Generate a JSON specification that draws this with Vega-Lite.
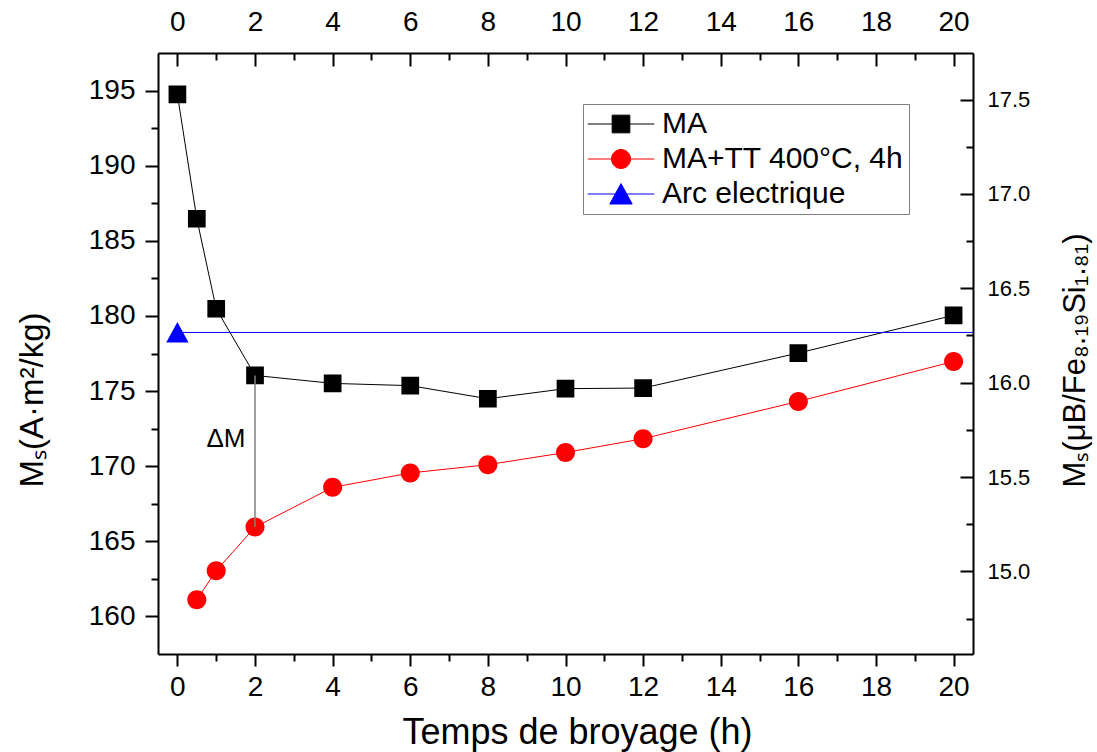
{
  "$schema": "https://vega.github.io/schema/vega-lite/v6.json",
  "width": 815,
  "height": 601,
  "autosize": {"type": "none"},
  "padding": {"left": 158, "top": 53, "right": 124, "bottom": 98},
  "background": "white",
  "config": {
    "font": "Liberation Sans",
    "view": {"stroke": null},
    "axis": {
      "grid": false,
      "domainColor": "black",
      "tickColor": "black",
      "labelColor": "black",
      "titleColor": "black",
      "domainWidth": 2,
      "tickWidth": 2,
      "labelFont": "Liberation Sans",
      "titleFont": "Liberation Sans",
      "titleFontWeight": "normal",
      "labelFlush": false,
      "labelOverlap": false
    },
    "legend": {
      "orient": "none", "legendX": 425, "legendY": 51,
      "direction": "vertical",
      "strokeColor": "#808080", "fillColor": "white", "padding": 5,
      "labelFontSize": 30, "labelFont": "Liberation Sans", "labelLimit": 400, "labelColor": "black",
      "symbolSize": 400, "symbolStrokeWidth": 1, "symbolOffset": 18, "labelOffset": 26, "rowPadding": 5
    }
  },
  "datasets": {
    "main": [
      {"t": 0, "Ms": 194.74, "series": "MA"},
      {"t": 0.5, "Ms": 186.47, "series": "MA"},
      {"t": 1, "Ms": 180.48, "series": "MA"},
      {"t": 2, "Ms": 176.04, "series": "MA"},
      {"t": 4, "Ms": 175.51, "series": "MA"},
      {"t": 6, "Ms": 175.36, "series": "MA"},
      {"t": 8, "Ms": 174.49, "series": "MA"},
      {"t": 10, "Ms": 175.16, "series": "MA"},
      {"t": 12, "Ms": 175.2, "series": "MA"},
      {"t": 16, "Ms": 177.53, "series": "MA"},
      {"t": 20, "Ms": 180.04, "series": "MA"},
      {"t": 0.5, "Ms": 161.11, "series": "MA+TT 400°C, 4h"},
      {"t": 1, "Ms": 163.04, "series": "MA+TT 400°C, 4h"},
      {"t": 2, "Ms": 165.95, "series": "MA+TT 400°C, 4h"},
      {"t": 4, "Ms": 168.59, "series": "MA+TT 400°C, 4h"},
      {"t": 6, "Ms": 169.55, "series": "MA+TT 400°C, 4h"},
      {"t": 8, "Ms": 170.1, "series": "MA+TT 400°C, 4h"},
      {"t": 10, "Ms": 170.91, "series": "MA+TT 400°C, 4h"},
      {"t": 12, "Ms": 171.83, "series": "MA+TT 400°C, 4h"},
      {"t": 16, "Ms": 174.31, "series": "MA+TT 400°C, 4h"},
      {"t": 20, "Ms": 176.97, "series": "MA+TT 400°C, 4h"},
      {"t": 0, "Ms": 178.9, "series": "Arc electrique"},
      {"t": 20.5, "Ms": 178.9, "series": "Arc electrique"}
    ],
    "delta": [
      {"t": 2, "top": 176.04, "bottom": 165.95, "tx": 1.25, "ty": 171.8, "label": "ΔM"}
    ],
    "right": [
      {"r": 16}
    ]
  },
  "resolve": {"scale": {"y": "independent"}, "axis": {"x": "independent", "y": "independent"}},
  "layer": [
    {
      "resolve": {"axis": {"x": "independent", "y": "independent"}},
      "layer": [
        {
          "data": {"name": "main"},
          "mark": {"type": "line", "strokeWidth": 1},
          "encoding": {
            "x": {
              "field": "t", "type": "quantitative",
              "scale": {"domain": [-0.5, 20.5], "nice": false, "zero": false},
              "axis": {
                "orient": "bottom",
                "values": [0, 2, 4, 6, 8, 10, 12, 14, 16, 18, 20],
                "tickSize": 12, "labelPadding": 7, "labelFontSize": 28,
                "title": "Temps de broyage (h)", "titleFontSize": 36,
                "titleX": 419, "titleY": 89, "titleAlign": "center", "titleBaseline": "alphabetic"
              }
            },
            "y": {
              "field": "Ms", "type": "quantitative",
              "scale": {"domain": [157.5, 197.5], "nice": false, "zero": false},
              "axis": {
                "orient": "left",
                "values": [160, 165, 170, 175, 180, 185, 190, 195],
                "tickSize": 13, "labelPadding": 10, "labelFontSize": 28,
                "title": "Mₛ(A·m²/kg)", "titleFontSize": 33,
                "titleAngle": 270, "titleX": -116, "titleY": 434, "titleAlign": "left", "titleBaseline": "alphabetic"
              }
            },
            "color": {
              "field": "series", "type": "nominal",
              "scale": {"domain": ["MA", "MA+TT 400°C, 4h", "Arc electrique"], "range": ["#000000", "#ff0000", "#0000ff"]},
              "legend": {"title": null}
            }
          }
        },
        {
          "data": {"name": "main"},
          "transform": [{"filter": "datum.t <= 20"}],
          "mark": {"type": "point", "filled": true, "opacity": 1, "size": 400},
          "encoding": {
            "x": {
              "field": "t", "type": "quantitative",
              "scale": {"domain": [-0.5, 20.5], "nice": false, "zero": false},
              "axis": {
                "orient": "bottom",
                "values": [1, 3, 5, 7, 9, 11, 13, 15, 17, 19],
                "tickSize": 7, "labels": false, "domain": false, "title": null
              }
            },
            "y": {
              "field": "Ms", "type": "quantitative",
              "scale": {"domain": [157.5, 197.5], "nice": false, "zero": false},
              "axis": {
                "orient": "left",
                "values": [162.5, 167.5, 172.5, 177.5, 182.5, 187.5, 192.5],
                "tickSize": 7, "labels": false, "domain": false, "title": null
              }
            },
            "color": {
              "field": "series", "type": "nominal",
              "scale": {"domain": ["MA", "MA+TT 400°C, 4h", "Arc electrique"], "range": ["#000000", "#ff0000", "#0000ff"]},
              "legend": {"title": null}
            },
            "shape": {
              "field": "series", "type": "nominal",
              "scale": {
                "domain": ["MA", "MA+TT 400°C, 4h", "Arc electrique"],
                "range": [
                  "M-3.33,0H3.33M-0.885,-0.885H0.885V0.885H-0.885Z",
                  "M-3.33,0H3.33M-0.95,0A0.95,0.95 0 1,0 0.95,0A0.95,0.95 0 1,0 -0.95,0Z",
                  "M-3.33,0H3.33M0,-1.04L1.12,1L-1.12,1Z"
                ]
              },
              "legend": {"title": null}
            }
          }
        },
        {
          "data": {"name": "delta"},
          "mark": {"type": "rule", "color": "#808080", "strokeWidth": 1.5},
          "encoding": {
            "x": {
              "field": "t", "type": "quantitative",
              "scale": {"domain": [-0.5, 20.5], "nice": false, "zero": false},
              "axis": {
                "orient": "top",
                "values": [0, 2, 4, 6, 8, 10, 12, 14, 16, 18, 20],
                "tickSize": -13, "labelPadding": 30, "labelFontSize": 28, "title": null
              }
            },
            "y": {"field": "top", "type": "quantitative", "scale": {"domain": [157.5, 197.5], "nice": false, "zero": false}, "axis": null},
            "y2": {"field": "bottom"}
          }
        },
        {
          "data": {"name": "delta"},
          "mark": {"type": "text", "fontSize": 26, "font": "Liberation Sans", "align": "center", "baseline": "middle", "color": "black"},
          "encoding": {
            "x": {
              "field": "tx", "type": "quantitative",
              "scale": {"domain": [-0.5, 20.5], "nice": false, "zero": false},
              "axis": {
                "orient": "top",
                "values": [1, 3, 5, 7, 9, 11, 13, 15, 17, 19],
                "tickSize": -7, "labels": false, "domain": false, "title": null
              }
            },
            "y": {"field": "ty", "type": "quantitative", "scale": {"domain": [157.5, 197.5], "nice": false, "zero": false}, "axis": null},
            "text": {"field": "label"}
          }
        }
      ]
    },
    {
      "data": {"name": "right"},
      "mark": {"type": "point", "opacity": 0},
      "encoding": {
        "y": {
          "field": "r", "type": "quantitative",
          "scale": {"domain": [14.562, 17.747], "nice": false, "zero": false},
          "axis": {
            "orient": "right",
            "values": [15, 15.5, 16, 16.5, 17, 17.5],
            "format": ".1f",
            "tickSize": -13, "labelPadding": 27, "labelFontSize": 22,
            "title": "Mₛ(μB/Fe₈.₁₉Si₁.₈₁)", "titleFontSize": 31,
            "titleAngle": 270, "titleX": 111, "titleY": 434, "titleAlign": "left", "titleBaseline": "alphabetic"
          }
        }
      }
    },
    {
      "data": {"name": "right"},
      "mark": {"type": "point", "opacity": 0},
      "encoding": {
        "y": {
          "field": "r", "type": "quantitative",
          "scale": {"domain": [14.562, 17.747], "nice": false, "zero": false},
          "axis": {
            "orient": "right",
            "values": [14.75, 15.25, 15.75, 16.25, 16.75, 17.25],
            "tickSize": -7, "labels": false, "domain": false, "title": null
          }
        }
      }
    }
  ]
}
